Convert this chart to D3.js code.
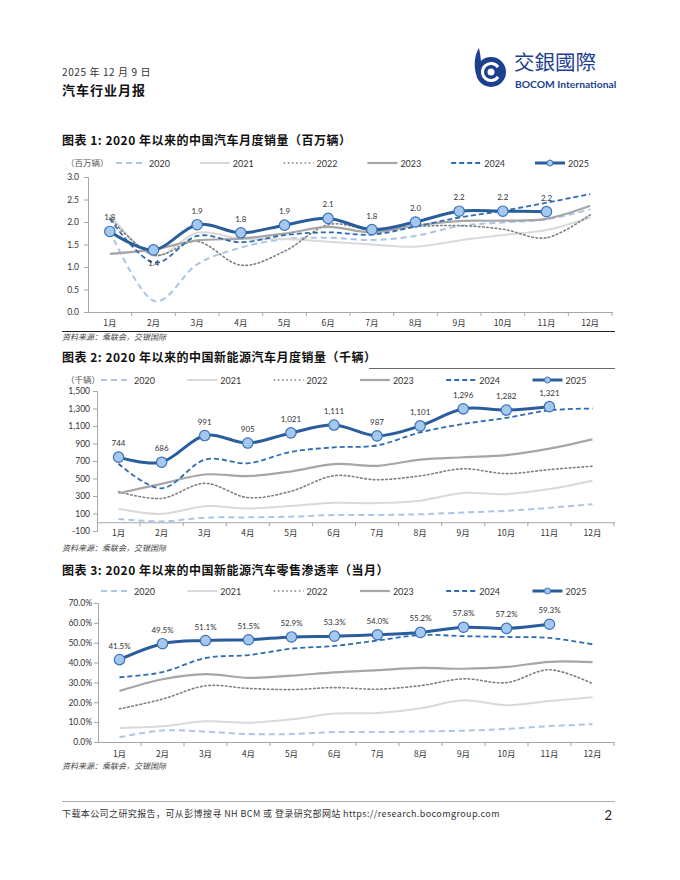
<!DOCTYPE html>
<html lang="zh-CN">
<head>
<meta charset="UTF-8">
<title>汽车行业月报</title>
<script src="https://cdn.jsdelivr.net/npm/d3@7"></script>
<style>
  body { margin: 0; background: #fff; }
  svg text { font-family: Lato, "Noto Sans CJK SC", sans-serif; fill: #333; }
</style>
</head>
<body>
<svg id="page"></svg>
<script>
// ---- data ----
const months = ['1月','2月','3月','4月','5月','6月','7月','8月','9月','10月','11月','12月'];
const years = ['2020','2021','2022','2023','2024','2025'];

// 图表1: 汽车月度销量 (百万辆)
const car2020 = [1.80, 0.25, 1.06, 1.43, 1.62, 1.65, 1.60, 1.69, 1.91, 1.99, 2.06, 2.28];
const car2021 = [2.17, 1.25, 1.76, 1.63, 1.62, 1.56, 1.50, 1.45, 1.59, 1.71, 1.82, 2.10];
const car2022 = [2.09, 1.27, 1.57, 1.04, 1.35, 1.94, 1.83, 1.90, 1.92, 1.84, 1.65, 2.16];
const car2023 = [1.29, 1.39, 1.59, 1.63, 1.74, 1.89, 1.77, 1.92, 2.02, 2.03, 2.07, 2.36];
const car2024 = [2.07, 1.10, 1.69, 1.55, 1.71, 1.77, 1.72, 1.90, 2.10, 2.25, 2.43, 2.62];
const car2025 = [1.79, 1.38, 1.94, 1.76, 1.93, 2.08, 1.83, 2.00, 2.24, 2.24, 2.23];

// 图表2: 新能源汽车月度销量 (千辆)
const nev2020 = [38, 10, 52, 56, 64, 82, 82, 91, 111, 131, 165, 207];
const nev2021 = [155, 96, 183, 158, 185, 223, 219, 247, 334, 321, 379, 475];
const nev2022 = [349, 272, 445, 282, 354, 532, 486, 530, 611, 556, 602, 640];
const nev2023 = [332, 439, 546, 527, 580, 665, 645, 716, 743, 768, 841, 947];
const nev2024 = [668, 388, 715, 674, 804, 856, 878, 1027, 1123, 1193, 1279, 1300];
const nev2025 = [744, 686, 991, 905, 1021, 1111, 987, 1101, 1296, 1282, 1321];

// 图表3: 新能源汽车零售渗透率 (%)
const rate2020 = [2.4, 5.8, 5.2, 4.0, 4.0, 5.0, 5.0, 5.3, 5.7, 6.6, 8.0, 9.0];
const rate2021 = [7.1, 7.9, 10.4, 9.7, 11.4, 14.3, 14.6, 17.0, 21.0, 18.5, 20.7, 22.5];
const rate2022 = [16.7, 21.6, 28.3, 27.0, 26.4, 27.4, 26.6, 28.4, 31.8, 29.9, 36.4, 29.4];
const rate2023 = [25.7, 31.6, 34.2, 32.3, 33.4, 35.1, 36.2, 37.3, 36.9, 37.8, 40.4, 40.2];
const rate2024 = [32.6, 35.2, 42.3, 43.8, 47.0, 48.4, 51.1, 53.9, 53.3, 52.9, 52.4, 49.2];
const rate2025 = [41.5, 49.5, 51.1, 51.5, 52.9, 53.3, 54.0, 55.2, 57.8, 57.2, 59.3];

const sourceText = '资料来源：乘联会，交银国际';

// ---- styles ----
const styles = [
  {color: '#a9c5e8', width: 2,   dash: '6,4'},
  {color: '#d9d9d9', width: 2,   dash: null},
  {color: '#7f7f7f', width: 1.6, dash: '1.6,2.6'},
  {color: '#a6a6a6', width: 2.2, dash: null},
  {color: '#2f6bb5', width: 1.8, dash: '5,3'},
  {color: '#2b5d9c', width: 3,   dash: null}
];
const axisColor = '#a6a6a6';
const cjk = '"Noto Sans CJK SC", sans-serif';

const svg = d3.select('#page').attr('width', 680).attr('height', 880);

// ---- header ----
svg.append('text').attr('x', 62).attr('y', 76).style('font-size', '10px')
  .style('font-family', cjk).style('letter-spacing', '0.6px').text('2025 年 12 月 9 日');
svg.append('text').attr('x', 62).attr('y', 95).style('font-size', '13px')
  .style('font-weight', 'bold').style('font-family', cjk).style('fill', '#111')
  .style('letter-spacing', '1px').text('汽车行业月报');

// logo
const logo = svg.append('g');
const navy = '#1d3f8f';
logo.append('path')
  .attr('d', 'M479,48 C474,56 474,66 476,74 L483,74 C481,66 481,56 479,48 Z')
  .attr('fill', navy);
logo.append('circle').attr('cx', 491).attr('cy', 72).attr('r', 15).attr('fill', navy);
logo.append('path')
  .attr('d', d3.arc()({innerRadius: 7, outerRadius: 10, startAngle: 0.6, endAngle: 2 * Math.PI - 0.6}))
  .attr('transform', 'translate(491,72) rotate(90)')
  .attr('fill', '#fff');
logo.append('circle').attr('cx', 491).attr('cy', 72).attr('r', 3.5).attr('fill', '#fff');
svg.append('text').attr('x', 514).attr('y', 70).style('font-size', '20.5px')
  .style('font-family', '"Noto Sans CJK TC", sans-serif').style('fill', navy)
  .text('交銀國際');
svg.append('text').attr('x', 515).attr('y', 87.5).style('font-size', '10.3px')
  .style('font-weight', 'bold').style('fill', navy).style('font-family', 'Lato, sans-serif')
  .text('BOCOM International');

// ---- chart drawing ----
function drawChart(cfg) {
  const g = svg.append('g');

  g.append('text').attr('x', 62).attr('y', cfg.titleY)
    .style('font-size', '12px').style('font-weight', 'bold').style('letter-spacing', '0.5px')
    .style('font-family', cjk).style('fill', '#111').text(cfg.title);

  // legend
  const lg = g.append('g');
  if (cfg.unit) {
    lg.append('text').attr('x', 66).attr('y', cfg.legendY + 3)
      .style('font-size', '8.5px').style('font-family', cjk).style('fill', '#555')
      .text(cfg.unit);
  }
  years.forEach((yr, i) => {
    const sx = cfg.legendX0 + i * cfg.legendStep;
    const st = styles[i];
    lg.append('line').attr('x1', sx).attr('x2', sx + 30)
      .attr('y1', cfg.legendY).attr('y2', cfg.legendY)
      .attr('stroke', st.color).attr('stroke-width', st.width)
      .attr('stroke-dasharray', st.dash);
    if (i === 5) {
      lg.append('circle').attr('cx', sx + 15).attr('cy', cfg.legendY).attr('r', 3)
        .attr('fill', '#a4c8ef').attr('stroke', '#3a71b6').attr('stroke-width', 1);
    }
    lg.append('text').attr('x', sx + 33).attr('y', cfg.legendY + 3.5)
      .style('font-size', '9px').text(yr);
  });

  const x = d3.scaleBand().domain(months).range([cfg.x0, cfg.x1]).paddingInner(0).paddingOuter(0);
  const y = d3.scaleLinear().domain(cfg.domain).range([cfg.yBottom, cfg.yTop]);
  const cx = i => x(months[i]) + x.bandwidth() / 2;

  // y axis
  const ya = g.append('g').attr('transform', `translate(${cfg.x0},0)`)
    .call(d3.axisLeft(y).tickValues(cfg.ticks).tickSize(4).tickPadding(cfg.tickPad).tickFormat(cfg.tickFmt));
  ya.selectAll('path, line').attr('stroke', axisColor);
  ya.selectAll('text').style('font-size', '8.5px').style('fill', '#333')
    .style('font-family', 'Lato, sans-serif');

  // x axis at value cfg.axisAt
  const xa = g.append('g').attr('transform', `translate(0,${y(cfg.axisAt)})`)
    .call(d3.axisBottom(x).tickSize(0).tickFormat(''));
  xa.select('path').attr('stroke', axisColor);
  xa.selectAll('.tick').remove();
  const bounds = months.map(m => x(m)).concat([cfg.x1]).slice(1);
  xa.selectAll('line.bt').data(bounds).join('line').attr('class', 'bt')
    .attr('x1', d => d).attr('x2', d => d).attr('y1', 0).attr('y2', 4)
    .attr('stroke', axisColor);
  g.append('g').selectAll('text').data(months).join('text')
    .attr('x', d => x(d) + x.bandwidth() / 2).attr('y', cfg.monthY)
    .attr('text-anchor', 'middle').style('font-size', '8.5px')
    .style('font-family', cjk).text(d => d);

  // lines
  const line = d3.line().x((d, i) => cx(i)).y(d => y(d)).curve(d3.curveCardinal.tension(0));
  cfg.series.forEach((vals, i) => {
    const st = styles[i];
    g.append('path').datum(vals).attr('d', line).attr('fill', 'none')
      .attr('stroke', st.color).attr('stroke-width', st.width)
      .attr('stroke-dasharray', st.dash).attr('stroke-linecap', i === 2 ? 'round' : 'butt');
  });

  // 2025 markers and labels
  const last = cfg.series[5];
  g.append('g').selectAll('circle').data(last).join('circle')
    .attr('cx', (d, i) => cx(i)).attr('cy', d => y(d)).attr('r', 5.2)
    .attr('fill', '#a4c8ef').attr('stroke', '#3a71b6').attr('stroke-width', 1.2);
  g.append('g').selectAll('text').data(last).join('text')
    .attr('x', (d, i) => cx(i))
    .attr('y', (d, i) => (cfg.below || []).includes(i) ? y(d) + 16 : y(d) - 11)
    .attr('text-anchor', 'middle').style('font-size', '8px').style('fill', '#333')
    .text(cfg.labelFmt);

  g.append('text').attr('x', 62).attr('y', cfg.sourceY)
    .style('font-size', '8px').style('font-style', 'italic')
    .style('font-family', cjk).style('fill', '#444').text(sourceText);
  return g;
}

drawChart({
  title: '图表 1: 2020 年以来的中国汽车月度销量（百万辆）',
  titleY: 145, legendY: 163, unit: '（百万辆）', legendX0: 116, legendStep: 83.8,
  x0: 88, x1: 612, yTop: 177, yBottom: 312, domain: [0, 3],
  ticks: [0, 0.5, 1, 1.5, 2, 2.5, 3], tickFmt: d3.format('.1f'), tickPad: 5,
  axisAt: 0, monthY: 326, sourceY: 340,
  series: [car2020, car2021, car2022, car2023, car2024, car2025],
  labelFmt: d3.format('.1f'), below: [1]
});
svg.append('line').attr('x1', 62).attr('x2', 615).attr('y1', 331.5).attr('y2', 331.5)
  .attr('stroke', '#222').attr('stroke-width', 1);

drawChart({
  title: '图表 2: 2020 年以来的中国新能源汽车月度销量（千辆）',
  titleY: 362, legendY: 380, unit: '（千辆）', legendX0: 101, legendStep: 86.3,
  x0: 97, x1: 614, yTop: 391, yBottom: 531, domain: [-100, 1500],
  ticks: d3.range(-100, 1501, 200), tickFmt: d => d < 0 ? '-' + Math.abs(d) : d3.format(',')(d), tickPad: 3,
  axisAt: 0, monthY: 536, sourceY: 551,
  series: [nev2020, nev2021, nev2022, nev2023, nev2024, nev2025],
  labelFmt: d3.format(',')
});
svg.append('line').attr('x1', 369).attr('x2', 615).attr('y1', 368.5).attr('y2', 368.5)
  .attr('stroke', '#444').attr('stroke-width', 0.8);

drawChart({
  title: '图表 3: 2020 年以来的中国新能源汽车零售渗透率（当月）',
  titleY: 575, legendY: 591, unit: null, legendX0: 101, legendStep: 86.3,
  x0: 98, x1: 614, yTop: 603, yBottom: 742, domain: [0, 70],
  ticks: d3.range(0, 71, 10), tickFmt: d => d3.format('.1f')(d) + '%', tickPad: 2,
  axisAt: 0, monthY: 757, sourceY: 769,
  series: [rate2020, rate2021, rate2022, rate2023, rate2024, rate2025],
  labelFmt: d => d3.format('.1f')(d) + '%'
});

// ---- footer ----
svg.append('line').attr('x1', 62).attr('x2', 615).attr('y1', 801.5).attr('y2', 801.5)
  .attr('stroke', '#999').attr('stroke-width', 0.8);
svg.append('text').attr('x', 62).attr('y', 817).style('font-size', '9px')
  .style('font-family', cjk).style('fill', '#333').style('letter-spacing', '0.4px')
  .text('下载本公司之研究报告，可从彭博搜寻 NH BCM 或 登录研究部网站 https://research.bocomgroup.com');
svg.append('text').attr('x', 612).attr('y', 820).attr('text-anchor', 'end')
  .style('font-size', '13px').style('fill', '#222').text('2');
</script>
</body>
</html>
